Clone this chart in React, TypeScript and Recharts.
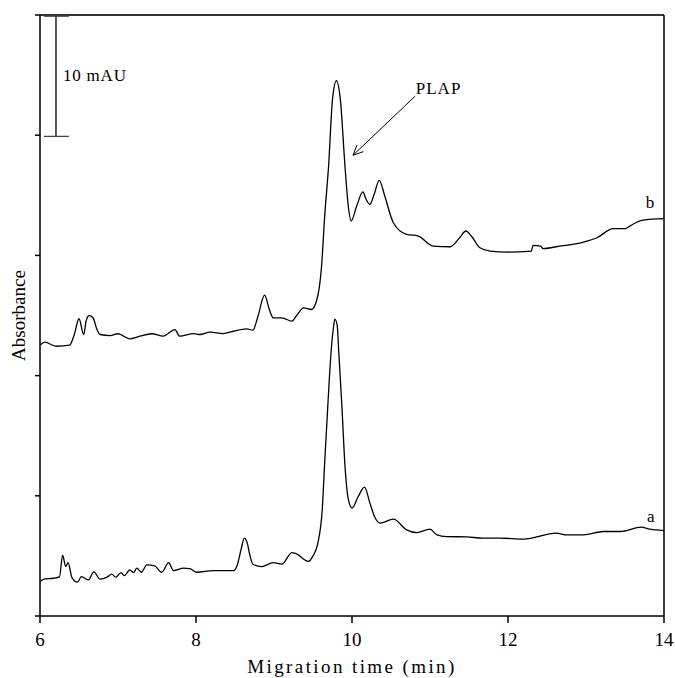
import {
  LineChart, Line, XAxis, YAxis, ReferenceLine, ReferenceDot,
} from "recharts"

// migration time (min), absorbance (mAU) — trace a (lower)
const traceA: [number, number][] = [
  [6.0, 2.86], [6.06, 3.08], [6.17, 3.14], [6.25, 3.25], [6.29, 5.06], [6.33, 4.11],
  [6.36, 4.44], [6.41, 3.19], [6.48, 2.81], [6.53, 3.28], [6.62, 3.0], [6.69, 3.67],
  [6.77, 3.06], [6.86, 3.23], [6.92, 3.48], [6.97, 3.23], [7.04, 3.61], [7.08, 3.36],
  [7.15, 3.83], [7.2, 3.61], [7.24, 3.98], [7.3, 3.64], [7.37, 4.25], [7.47, 4.17],
  [7.56, 3.64], [7.65, 4.44], [7.71, 3.78], [7.84, 3.98], [7.92, 3.94], [8.01, 3.64],
  [8.22, 3.78], [8.48, 3.78], [8.53, 4.25], [8.58, 5.6], [8.62, 6.48], [8.66, 6.0],
  [8.69, 5.08], [8.73, 4.31], [8.84, 4.11], [8.99, 4.44], [9.1, 4.31], [9.23, 5.28],
  [9.29, 5.17], [9.44, 4.54], [9.5, 5.0], [9.56, 6.0], [9.62, 9.0], [9.65, 12.8],
  [9.69, 17.5], [9.73, 21.8], [9.76, 23.9], [9.78, 24.7], [9.81, 24.2], [9.83, 22.0],
  [9.87, 17.5], [9.91, 12.5], [9.95, 9.8], [10.0, 8.97], [10.08, 9.94], [10.16, 10.72],
  [10.23, 9.39], [10.29, 8.25], [10.36, 7.72], [10.53, 8.06], [10.7, 7.17], [10.83, 6.94],
  [11.0, 7.22], [11.09, 6.75], [11.21, 6.61], [11.47, 6.58], [11.68, 6.48], [11.9, 6.48],
  [12.2, 6.39], [12.62, 6.89], [12.75, 6.75], [12.97, 6.75], [13.22, 7.03], [13.44, 7.03],
  [13.71, 7.39], [13.82, 7.22], [14.0, 7.11],
]

// trace b (upper, offset)
const traceB: [number, number][] = [
  [6.0, 22.53], [6.06, 22.78], [6.21, 22.44], [6.38, 22.53], [6.44, 23.42], [6.5, 24.73],
  [6.56, 23.42], [6.59, 24.5], [6.63, 25.0], [6.68, 24.81], [6.73, 23.83], [6.77, 23.42],
  [6.9, 23.33], [7.0, 23.48], [7.15, 23.06], [7.28, 23.28], [7.43, 23.48], [7.58, 23.28],
  [7.73, 23.83], [7.79, 23.28], [7.97, 23.5], [8.05, 23.42], [8.18, 23.61], [8.35, 23.5],
  [8.48, 23.69], [8.65, 23.89], [8.73, 23.78], [8.79, 24.83], [8.88, 26.69], [8.94, 25.5],
  [8.99, 24.81], [9.1, 24.81], [9.23, 24.53], [9.29, 25.0], [9.38, 25.64], [9.48, 25.5],
  [9.55, 26.33], [9.61, 29.11], [9.65, 33.28], [9.7, 37.44], [9.75, 43.0], [9.8, 44.53],
  [9.85, 43.0], [9.91, 37.44], [9.95, 34.25], [9.99, 32.86], [10.06, 34.11], [10.14, 35.28],
  [10.18, 34.67], [10.23, 34.25], [10.28, 35.0], [10.35, 36.25], [10.42, 34.94], [10.53, 32.72],
  [10.7, 31.75], [10.85, 31.61], [11.04, 30.78], [11.26, 30.72], [11.38, 31.47], [11.46, 32.03],
  [11.53, 31.61], [11.64, 30.64], [11.77, 30.36], [11.98, 30.28], [12.3, 30.36], [12.32, 30.83],
  [12.42, 30.78], [12.45, 30.56], [12.62, 30.72], [12.97, 31.11], [13.14, 31.47], [13.35, 32.22],
  [13.5, 32.22], [13.56, 32.44], [13.73, 32.94], [14.0, 33.06],
]

const xTicks = [6, 8, 10, 12, 14]
const yTicks = [0, 10, 20, 30, 40, 50]

const dataA = traceA.map(([x, y]) => ({ x, y }))
const dataB = traceB.map(([x, y]) => ({ x, y }))

const font = '"Liberation Serif", "Times New Roman", serif'
const ink = "#000"

export default function App() {
  return (
    <div style={{ position: "absolute", left: 0, top: 0, fontFamily: font, background: "#fff" }}>
      <LineChart
        width={675}
        height={678}
        margin={{ top: 15, right: 11, bottom: 0, left: 0 }}
        style={{ fontFamily: font }}
      >
        <XAxis
          dataKey="x"
          type="number"
          domain={[6, 14]}
          ticks={xTicks}
          allowDataOverflow
          height={62}
          stroke={ink}
          strokeWidth={1.5}
          tickSize={7}
          tickMargin={10}
          tick={{ fontSize: 19, fill: ink, fontFamily: font }}
          label={{
            value: "Migration time (min)",
            position: "insideBottom",
            offset: 5,
            fontSize: 19,
            fill: ink,
            fontFamily: font,
            letterSpacing: 2.4,
          }}
        />
        <YAxis
          type="number"
          domain={[0, 50]}
          ticks={yTicks}
          width={40}
          stroke={ink}
          strokeWidth={1.5}
          tickSize={5}
          tickFormatter={() => ""}
          label={{
            value: "Absorbance",
            angle: -90,
            position: "insideLeft",
            offset: 18,
            fill: ink,
            style: { textAnchor: "middle", fontSize: 19, fontFamily: font },
          }}
        />

        {/* frame: top and right sides */}
        <ReferenceLine y={50} stroke="#333" strokeWidth={2} />
        <ReferenceLine x={14} stroke={ink} strokeWidth={1.5} />

        {/* 10 mAU scale bar */}
        <ReferenceLine segment={[{ x: 6.205, y: 49.9 }, { x: 6.205, y: 39.9 }]} stroke={ink} strokeWidth={1.3} />
        <ReferenceLine segment={[{ x: 6.05, y: 49.9 }, { x: 6.37, y: 49.9 }]} stroke="#444" strokeWidth={1.3} />
        <ReferenceLine segment={[{ x: 6.05, y: 39.9 }, { x: 6.37, y: 39.9 }]} stroke="#444" strokeWidth={1.3} />
        <ReferenceDot
          x={6.23}
          y={45}
          r={0}
          fill="none"
          stroke="none"
          label={{ value: "10 mAU", position: "right", fontSize: 17, fill: ink, fontFamily: font, letterSpacing: 0.8 }}
        />

        {/* PLAP arrow */}
        <ReferenceLine segment={[{ x: 10.81, y: 43.25 }, { x: 10.013, y: 38.33 }]} stroke={ink} strokeWidth={1} />
        <ReferenceLine segment={[{ x: 10.013, y: 38.33 }, { x: 10.146, y: 38.63 }]} stroke={ink} strokeWidth={1} />
        <ReferenceLine segment={[{ x: 10.013, y: 38.33 }, { x: 10.064, y: 39.18 }]} stroke={ink} strokeWidth={1} />
        <ReferenceDot
          x={11.11}
          y={43.9}
          r={0}
          fill="none"
          stroke="none"
          label={{ value: "PLAP", position: "center", fontSize: 17, fill: ink, fontFamily: font, letterSpacing: 1 }}
        />
        <ReferenceDot
          x={13.82}
          y={34.42}
          r={0}
          fill="none"
          stroke="none"
          label={{ value: "b", position: "center", fontSize: 17, fill: ink, fontFamily: font }}
        />
        <ReferenceDot
          x={13.83}
          y={8.33}
          r={0}
          fill="none"
          stroke="none"
          label={{ value: "a", position: "center", fontSize: 17, fill: ink, fontFamily: font }}
        />

        <Line
          data={dataA}
          dataKey="y"
          type="monotone"
          stroke={ink}
          strokeWidth={1.3}
          dot={false}
          activeDot={false}
          isAnimationActive={false}
        />
        <Line
          data={dataB}
          dataKey="y"
          type="monotone"
          stroke={ink}
          strokeWidth={1.3}
          dot={false}
          activeDot={false}
          isAnimationActive={false}
        />
      </LineChart>
    </div>
  )
}
